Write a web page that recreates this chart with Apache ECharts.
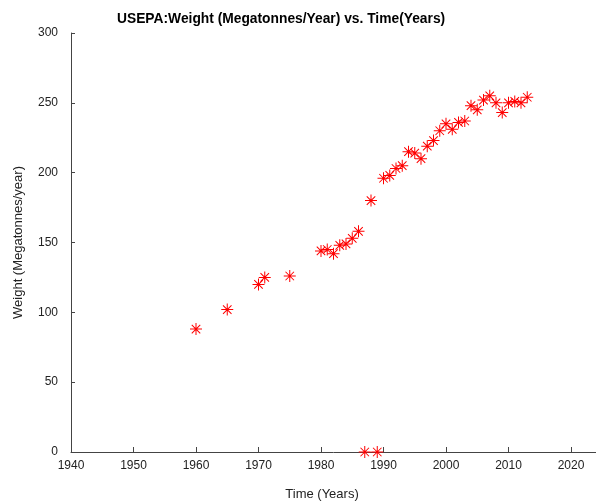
<!DOCTYPE html>
<html>
<head>
<meta charset="utf-8">
<script src="https://cdn.jsdelivr.net/npm/echarts@6/dist/echarts.min.js"></script>
<style>
html,body{margin:0;padding:0;background:#fff;}
#chart{width:596px;height:501px;}
</style>
</head>
<body>
<div id="chart"></div>
<script>
var years = [1960,1965,1970,1971,1975,1980,1981,1982,1983,1984,1985,1986,1987,1988,1989,1990,1991,1992,1993,1994,1995,1996,1997,1998,1999,2000,2001,2002,2003,2004,2005,2006,2007,2008,2009,2010,2011,2012,2013];
var weights = [88,102,120,125,126,144,145,142,148,149,153,158,0,180,0,196,198,203,205,215,214,210,219,223,230,235,231,236,237,248,245,252,255,250,243,250,251,250,254];
var xTicks = [1940,1950,1960,1970,1980,1990,2000,2010,2020];
var yTicks = [0,50,100,150,200,250,300];

var titleText = 'USEPA:Weight (Megatonnes/Year) vs. Time(Years)';
var xName = 'Time (Years)';
var yName = 'Weight (Megatonnes/year)';

var pts = years.map(function(y,i){return [y, weights[i]];});
var FONT = '"Liberation Sans", Arial, Helvetica, sans-serif';
var asterisk = 'path://M0 11L24 11L24 13L0 13Z M11 0L13 0L13 24L11 24Z M4.2 2.8L21.2 19.8L19.8 21.2L2.8 4.2Z M19.8 2.8L21.2 4.2L4.2 21.2L2.8 19.8Z';

var chart = echarts.init(document.getElementById('chart'), null, {renderer:'canvas'});
chart.setOption({
  animation:false,
  backgroundColor:'#fff',
  textStyle:{fontFamily:FONT},
  title:{
    text:titleText,
    left:112, top:7,
    textStyle:{fontSize:13.8, fontWeight:'bold', color:'#000', fontFamily:FONT}
  },
  grid:{left:71, right:0, top:33, bottom:49, containLabel:false, outerBoundsMode:'none'},
  xAxis:{
    type:'value', min:1940, max:2024, interval:10,
    name:xName, nameLocation:'middle', nameGap:36,
    nameTextStyle:{fontSize:13, color:'#222', padding:[0,23,0,0], fontFamily:FONT},
    splitLine:{show:false},
    axisLine:{show:true, onZero:false, lineStyle:{color:'#444', width:1}},
    axisTick:{show:true, inside:true, length:5, lineStyle:{color:'#444'}, customValues:xTicks},
    axisLabel:{color:'#222', fontSize:12, margin:8, fontFamily:FONT, customValues:xTicks,
      formatter:function(v){return String(v);}}
  },
  yAxis:{
    type:'value', min:0, max:300, interval:50,
    name:yName, nameLocation:'middle', nameGap:46,
    nameTextStyle:{fontSize:13, color:'#222', fontFamily:FONT},
    splitLine:{show:false},
    axisLine:{show:true, onZero:false, lineStyle:{color:'#444', width:1}},
    axisTick:{show:true, inside:true, length:4, lineStyle:{color:'#444'}, customValues:yTicks},
    axisLabel:{color:'#222', fontSize:12, margin:13, fontFamily:FONT, customValues:yTicks,
      formatter:function(v){return String(v);}}
  },
  series:[{
    type:'scatter',
    data:pts,
    symbol:asterisk,
    symbolSize:12,
    clip:false,
    itemStyle:{color:'#ff0000', opacity:1}
  }]
});
</script>
</body>
</html>
